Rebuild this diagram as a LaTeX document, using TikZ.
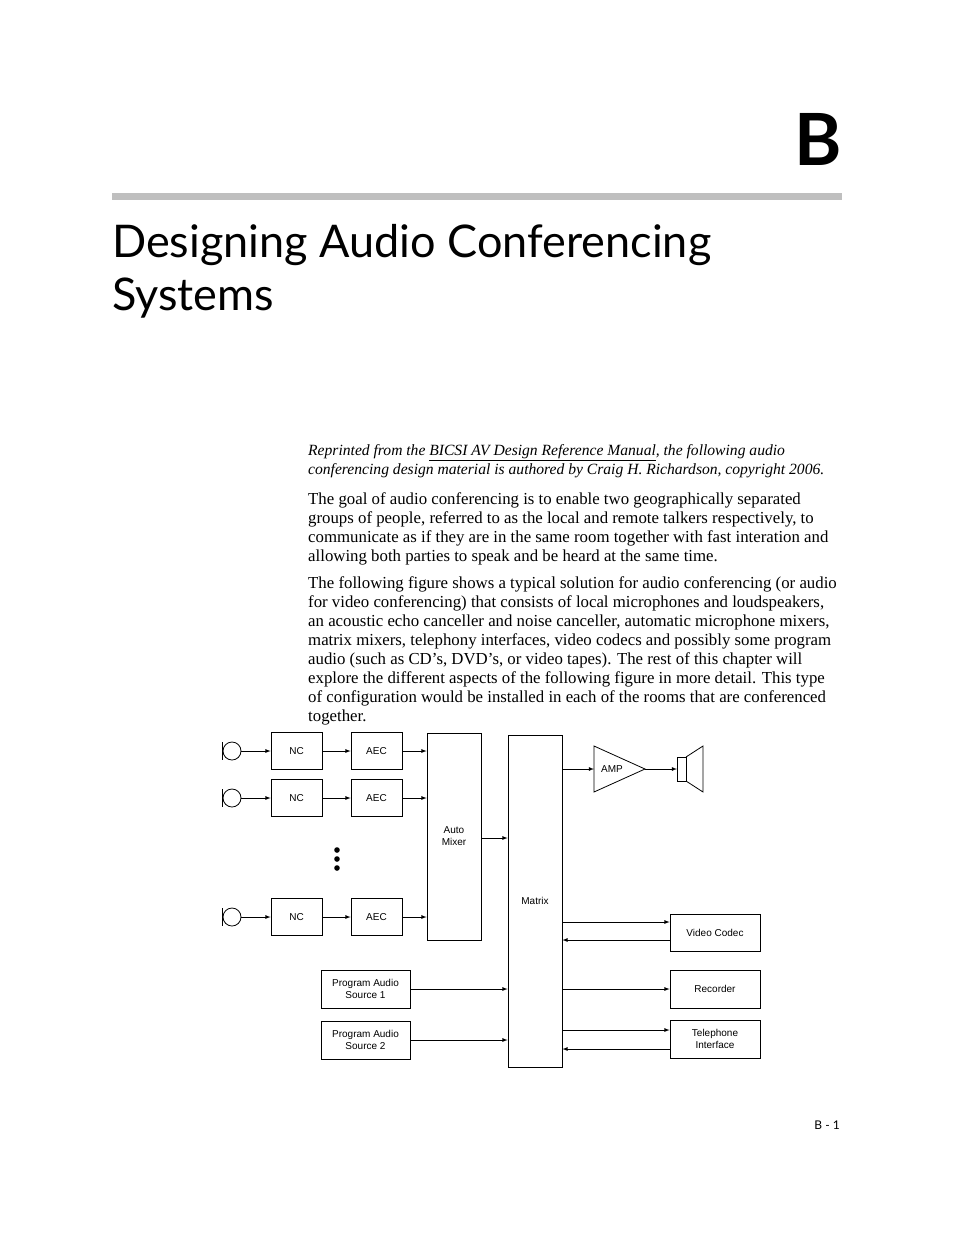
\documentclass[tikz,border=0pt]{standalone}
\usepackage{fontspec}
\setmainfont{Liberation Serif}
\newfontfamily\headfont{Lato}
\newfontfamily\diafont{Liberation Sans}
\usetikzlibrary{positioning}
\tikzset{
  blk/.style={draw,thick,font=\diafont\fontsize{10}{12}\selectfont,align=center,inner sep=0pt},
  sig/.style={-latex,thick},
  para/.style={anchor=north west,align=left,inner sep=0pt,font=\fontsize{16.8}{19}\selectfont}
}
\begin{document}
\begin{tikzpicture}[x=1pt,y=-1pt]
    \useasboundingbox[fill=white] (0,0) rectangle (954,1235);
    % heading
    \node[anchor=south east,inner sep=0pt,font=\headfont\bfseries\fontsize{72}{72}\selectfont] (chap) at (842,166) {B};
    \fill[black!25] (112,193) rectangle (842,200);
    \node[anchor=north west,inner sep=0pt,align=left,font=\headfont\fontsize{45}{53}\selectfont] (title) at (112,224) {Designing Audio Conferencing\\Systems};

    % text
    \node[para,font=\fontsize{15.6}{19}\selectfont] (intro) at (308,444) {\itshape Reprinted from the \underline{BICSI AV Design Reference Manual}, the following audio\\\itshape conferencing design material is authored by Craig H. Richardson, copyright 2006.};
    \node[para] (goal) at (308,492) {The goal of audio conferencing is to enable two geographically separated\\groups of people, referred to as the local and remote talkers respectively, to\\communicate as if they are in the same room together with fast interation and\\allowing both parties to speak and be heard at the same time.};
    \node[para] (fig) at (308,576) {The following figure shows a typical solution for audio conferencing (or audio\\for video conferencing) that consists of local microphones and loudspeakers,\\an acoustic echo canceller and noise canceller, automatic microphone mixers,\\matrix mixers, telephony interfaces, video codecs and possibly some program\\audio (such as CD's, DVD's, or video tapes). The rest of this chapter will\\explore the different aspects of the following figure in more detail. This type\\of configuration would be installed in each of the rooms that are conferenced\\together.};

    % microphone chains
    \foreach \y/\n in {751/1,798/2,917/3}{
      \draw[thick] (232,\y) circle[radius=9];
      \draw[thick] (222.5,\y-9) -- (222.5,\y+9);
      \coordinate (mic\n) at (241,\y);
      \node[blk,minimum width=51,minimum height=37] (nc\n) at (296.5,\y) {NC};
      \node[blk,minimum width=51,minimum height=37] (aec\n) at (376.5,\y) {AEC};
      \draw[sig] (mic\n) -- (nc\n);
      \draw[sig] (nc\n) -- (aec\n);
    }
    \foreach \y in {850,859,868} \fill (337,\y) circle[radius=2.8];
    \node[blk,minimum width=54,minimum height=207] (mixer) at (454,836.5) {Auto\\Mixer};
    \foreach \n in {1,2,3} \draw[sig] (aec\n) -- (aec\n -| mixer.west);
    \node[blk,minimum width=54,minimum height=332] (matrix) at (535,901) {Matrix};
    \draw[sig] (mixer.east |- 0,838) -- (matrix.west |- 0,838);

    % amplifier and loudspeaker
    \draw[thick] (594,746) -- (645,769) -- (594,792) -- cycle;
    \node[font=\diafont\fontsize{10}{12}\selectfont] (amp) at (612,769) {AMP};
    \coordinate (ampin) at (594,769);
    \coordinate (ampout) at (645,769);
    \draw[thick] (677,757) rectangle (686,781);
    \draw[thick] (686,757) -- (703,746) -- (703,792) -- (686,781);
    \coordinate (spk) at (677,769);
    \draw[sig] (matrix.east |- ampin) -- (ampin);
    \draw[sig] (ampout) -- (spk);

    % outputs
    \node[blk,minimum width=90,minimum height=37] (codec) at (715,932.5) {Video Codec};
    \node[blk,minimum width=90,minimum height=38] (rec) at (715,989) {Recorder};
    \node[blk,minimum width=90,minimum height=38] (tel) at (715,1039) {Telephone\\Interface};
    \draw[sig] (matrix.east |- 0,922) -- (codec.west |- 0,922);
    \draw[sig] (codec.west |- 0,940) -- (matrix.east |- 0,940);
    \draw[sig] (matrix.east |- rec) -- (rec);
    \draw[sig] (matrix.east |- 0,1030) -- (tel.west |- 0,1030);
    \draw[sig] (tel.west |- 0,1049) -- (matrix.east |- 0,1049);

    % program sources
    \node[blk,minimum width=89,minimum height=38] (src1) at (365.5,989) {Program Audio\\Source 1};
    \node[blk,minimum width=89,minimum height=38] (src2) at (365.5,1040) {Program Audio\\Source 2};
    \draw[sig] (src1) -- (src1 -| matrix.west);
    \draw[sig] (src2) -- (src2 -| matrix.west);

    \node[anchor=east,inner sep=0pt,font=\headfont\fontsize{12}{14}\selectfont] (page) at (840,1125) {B - 1};
\end{tikzpicture}
\end{document}
